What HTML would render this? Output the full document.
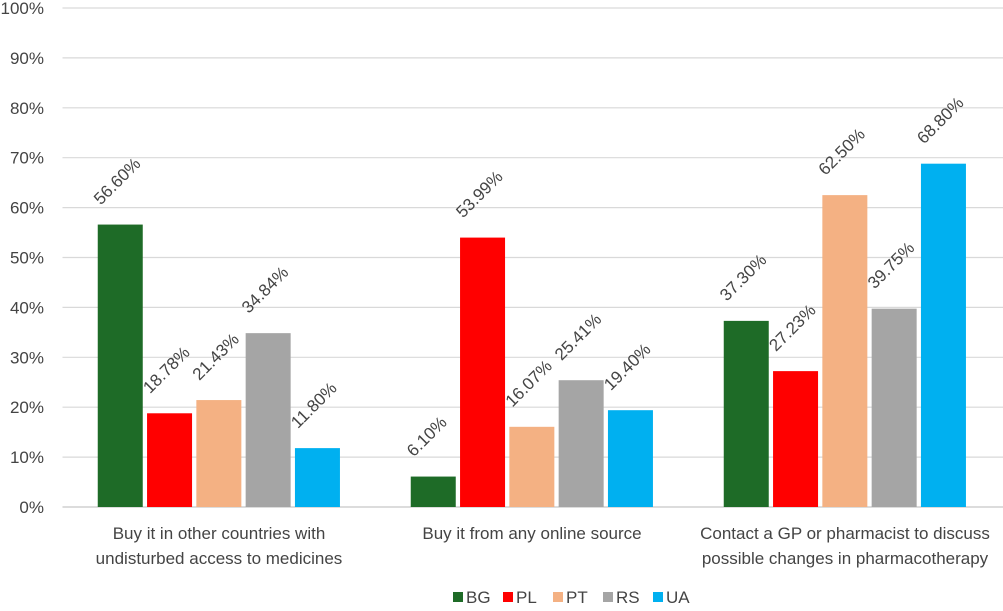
<!DOCTYPE html>
<html><head><meta charset="utf-8"><style>
body{margin:0;background:#fff;}
svg text{font-family:"Liberation Sans",sans-serif;fill:#444;}
</style></head><body>
<svg id="chart" width="1003" height="606" xmlns="http://www.w3.org/2000/svg"></svg>
<script>
const categories=[["Buy it in other countries with","undisturbed access to medicines"],["Buy it from any online source"],["Contact a GP or pharmacist to discuss","possible changes in pharmacotherapy"]];
const seriesNames=["BG","PL","PT","RS","UA"];
const seriesColors=["#1e6b27","#ff0000","#f4b183","#a5a5a5","#00b0f0"];
const BG=[56.60,6.10,37.30];
const PL=[18.78,53.99,27.23];
const PT=[21.43,16.07,62.50];
const RS=[34.84,25.41,39.75];
const UA=[11.80,19.40,68.80];
const yTicks=[0,10,20,30,40,50,60,70,80,90,100];
const series=[BG,PL,PT,RS,UA];
const svg=document.getElementById('chart');
const NS='http://www.w3.org/2000/svg';
const x0=62.5,catW=313,y0=507,yTop=8;
const y=v=>y0-(v/100)*(y0-yTop);
function mk(t,a){const e=document.createElementNS(NS,t);for(const k in a)e.setAttribute(k,a[k]);svg.appendChild(e);return e;}
yTicks.forEach(t=>{
 const l=mk('line',{x1:x0,x2:1003,y1:y(t),y2:y(t),stroke:t===0?'#d0d0d0':'#d9d9d9','stroke-width':t===0?1.5:1.2});
 
 
 const tx=mk('text',{x:44,y:y(t)+6,'text-anchor':'end','font-size':17});
 tx.textContent=t+'%';
 
 
});
const bw=45,step=49.3;
categories.forEach((c,i)=>{
 const cx=x0+catW*(i+0.5);
 series.forEach((s,j)=>{
  const bx=cx-2.5*step+j*step+2;
  const r=mk('rect',{x:bx,y:y(s[i]),width:bw,height:y0-y(s[i]),fill:seriesColors[j]});
  
  
  const lx=bx+3,ly=y(s[i])-19;
  const t=mk('text',{x:lx,y:ly,'font-size':17,transform:`rotate(-45 ${lx} ${ly})`});
  t.textContent=s[i].toFixed(2)+'%';
  
  
 });
 c.forEach((ln,k)=>{
  const t=mk('text',{x:cx,y:539+k*25,'text-anchor':'middle','font-size':17});
  t.textContent=ln;
  
  
 });
});
const lw=[44,44,44,44,44];let lx=453;
seriesNames.forEach((n,j)=>{
 const r=mk('rect',{x:lx,y:592,width:10,height:10,fill:seriesColors[j]});
 
 
 const t=mk('text',{x:lx+13,y:603,'font-size':17});
 t.textContent=n;
 
 
 lx+=lw[j]+6;
});
</script>
</body></html>
